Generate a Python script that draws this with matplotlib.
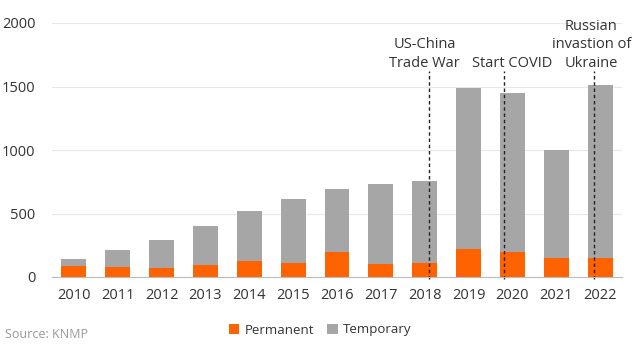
from matplotlib import pyplot as plt
import numpy as np

# data
years = ['2010', '2011', '2012', '2013', '2014', '2015', '2016',
         '2017', '2018', '2019', '2020', '2021', '2022']
permanent = [87, 76, 71, 92, 124, 113, 197, 102, 110, 223, 197, 150, 150]
total = [144, 210, 291, 402, 522, 612, 695, 730, 756, 1490, 1446, 1000, 1512]
temporary = [t - p for t, p in zip(total, permanent)]

event_pos = [8.1, 9.8, 11.85]
event_label_x = [8.0, 10.0, 11.8]
event_labels = ['US-China\nTrade War', 'Start COVID', 'Russian\ninvastion of\nUkraine']

orange = '#FF6200'
grey = '#A6A6A6'
txt = '#333333'

plt.rcParams['font.family'] = ['Open Sans', 'DejaVu Sans']

fig = plt.figure(figsize=(6.4, 3.56), dpi=100)
ax = fig.add_axes([52 / 640, 1 - 277 / 356, 570 / 640, 254 / 356])

x = np.arange(len(years))
ax.bar(x, permanent, width=0.57, color=orange, label='Permanent', zorder=2)
ax.bar(x, temporary, width=0.57, bottom=permanent, color=grey, label='Temporary', zorder=2)

for xp in event_pos:
    ax.plot([xp, xp], [-18, 1620], color='#222222', lw=1, ls=(0, (2.5, 2)),
            clip_on=False, zorder=3)
for xl, lab in zip(event_label_x, event_labels):
    ax.text(xl, 1625, lab, ha='center', va='bottom', fontsize=10.5,
            color=txt, linespacing=1.3)

ax.set_xlim(-0.5, 12.5)
ax.set_ylim(0, 2000)
ax.set_yticks([0, 500, 1000, 1500, 2000])
ax.set_xticks(x)
ax.set_xticklabels(years)
ax.tick_params(length=0, labelsize=10.5, labelcolor=txt)
ax.tick_params(axis='y', pad=12)
ax.tick_params(axis='x', pad=8)
ax.grid(axis='y', color='#e8e8e8', lw=0.8, zorder=0)
for s in ['top', 'right', 'left']:
    ax.spines[s].set_visible(False)
ax.spines['bottom'].set_color('#bbbbbb')
ax.spines['bottom'].set_zorder(4)

fig.legend(loc='center', bbox_to_anchor=(0.5, 1 - 330 / 356), ncol=2, frameon=False,
           fontsize=9.5, handlelength=0.8, handleheight=0.8, handletextpad=0.4,
           columnspacing=1.0, labelcolor=txt)
fig.text(5 / 640, 1 - 335 / 356, 'Source: KNMP', fontsize=9, color='#999999',
         va='center', ha='left')

fig.savefig('out.png', dpi=100)
